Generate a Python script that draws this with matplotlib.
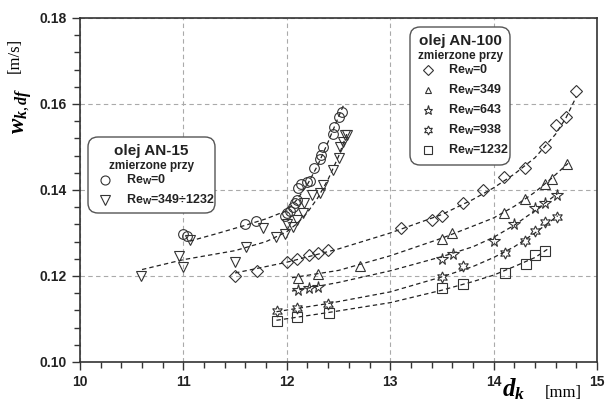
import numpy as np
import matplotlib
matplotlib.use("Agg")
import matplotlib.pyplot as plt
from matplotlib.patches import FancyBboxPatch
from matplotlib.lines import Line2D
from matplotlib.transforms import Affine2D
from matplotlib.ticker import MultipleLocator, FormatStrFormatter

plt.rcParams["font.family"] = ["Liberation Sans", "DejaVu Sans"]
plt.rcParams["mathtext.fontset"] = "custom"
plt.rcParams["mathtext.it"] = "Liberation Serif:italic:bold"
plt.rcParams["mathtext.rm"] = "Liberation Serif"
plt.rcParams["mathtext.sf"] = "Liberation Sans:bold"

# ---------- dane: olej AN-15 ----------
an15_re0_x = [11.0, 11.03, 11.6, 11.7, 11.98, 12.0, 12.03, 12.06, 12.08, 12.1, 12.11,
              12.14, 12.2, 12.22, 12.26, 12.32, 12.33, 12.35, 12.45, 12.46, 12.5, 12.53]
an15_re0_y = [0.1297, 0.1292, 0.1321, 0.1328, 0.1340, 0.1346, 0.1352, 0.1360, 0.1369, 0.1377, 0.1404,
              0.1413, 0.1418, 0.1420, 0.1452, 0.1471, 0.1481, 0.1501, 0.1530, 0.1547, 0.1570, 0.1582]
an15_rew_x = [10.59, 10.96, 11.0, 11.06, 11.5, 11.61, 11.77, 11.9, 11.98, 12.0, 12.06, 12.1,
              12.16, 12.17, 12.24, 12.32, 12.35, 12.45, 12.5, 12.51, 12.54, 12.56, 12.58]
an15_rew_y = [0.1199, 0.1247, 0.1222, 0.1284, 0.1232, 0.1268, 0.1312, 0.1291, 0.1298, 0.1322, 0.1315, 0.1330,
              0.1347, 0.1370, 0.1388, 0.1392, 0.1412, 0.1447, 0.1474, 0.1500, 0.1512, 0.1529, 0.1529]

# krzywe aproksymujace
fit15_re0_x = [11.06, 11.3, 11.6, 11.8, 12.0, 12.1, 12.2, 12.3, 12.4, 12.5, 12.55]
fit15_re0_y = [0.1281, 0.1297, 0.1318, 0.1333, 0.1352, 0.1378, 0.1413, 0.1458, 0.1512, 0.1570, 0.1598]
fit15_rew_x = [10.6, 11.0, 11.5, 11.8, 12.0, 12.1, 12.2, 12.3, 12.4, 12.5, 12.58]
fit15_rew_y = [0.1215, 0.1238, 0.1259, 0.1280, 0.1303, 0.1322, 0.1348, 0.1382, 0.1425, 0.1478, 0.1530]

# ---------- dane: olej AN-100 ----------
an100_re0_x = [11.5, 11.71, 12.0, 12.1, 12.21, 12.3, 12.4, 13.1, 13.4, 13.5, 13.7, 13.9,
               14.1, 14.3, 14.5, 14.6, 14.7, 14.8]
an100_re0_y = [0.1200, 0.1212, 0.1232, 0.1240, 0.1249, 0.1253, 0.1260, 0.1311, 0.1331, 0.1340, 0.1369, 0.1400,
               0.1431, 0.1450, 0.1500, 0.1550, 0.1570, 0.1630]
an100_re349_x = [12.11, 12.3, 12.71, 13.5, 13.6, 14.1, 14.3, 14.5, 14.56, 14.71]
an100_re349_y = [0.1195, 0.1204, 0.1223, 0.1286, 0.1299, 0.1346, 0.1380, 0.1414, 0.1425, 0.1460]
an100_re643_x = [12.11, 12.21, 12.3, 13.5, 13.61, 14.0, 14.2, 14.4, 14.5, 14.61]
an100_re643_y = [0.1167, 0.1171, 0.1174, 0.1239, 0.1250, 0.1281, 0.1320, 0.1359, 0.1369, 0.1388]
an100_re938_x = [11.91, 12.1, 12.4, 13.5, 13.7, 14.11, 14.3, 14.4, 14.5, 14.61]
an100_re938_y = [0.1119, 0.1125, 0.1136, 0.1198, 0.1224, 0.1254, 0.1281, 0.1304, 0.1326, 0.1338]
an100_re1232_x = [11.91, 12.1, 12.41, 13.5, 13.7, 14.11, 14.31, 14.4, 14.5]
an100_re1232_y = [0.1096, 0.1105, 0.1115, 0.1171, 0.1181, 0.1206, 0.1229, 0.1249, 0.1258]

fit100_re0_x = [11.5, 12.0, 12.5, 13.0, 13.5, 13.8, 14.0, 14.2, 14.4, 14.6, 14.7, 14.8]
fit100_re0_y = [0.1207, 0.1232, 0.1263, 0.1300, 0.1343, 0.1378, 0.1405, 0.1437, 0.1475, 0.1530, 0.1568, 0.1617]
fit100_re349_x = [12.05, 12.5, 13.0, 13.5, 13.8, 14.0, 14.2, 14.4, 14.55, 14.72]
fit100_re349_y = [0.1196, 0.1213, 0.1247, 0.1288, 0.1316, 0.1335, 0.1362, 0.1395, 0.1425, 0.1462]
fit100_re643_x = [12.05, 12.5, 13.0, 13.5, 13.8, 14.0, 14.2, 14.4, 14.62]
fit100_re643_y = [0.1165, 0.1185, 0.1212, 0.1245, 0.1268, 0.1290, 0.1318, 0.1352, 0.1392]
fit100_re938_x = [11.9, 12.4, 13.0, 13.5, 13.8, 14.0, 14.2, 14.4, 14.62]
fit100_re938_y = [0.1117, 0.1136, 0.1163, 0.1198, 0.1222, 0.1243, 0.1268, 0.1300, 0.1340]
fit100_re1232_x = [11.9, 12.4, 13.0, 13.5, 13.8, 14.0, 14.2, 14.4, 14.52]
fit100_re1232_y = [0.1097, 0.1115, 0.1138, 0.1167, 0.1187, 0.1202, 0.1222, 0.1243, 0.1262]

MC = "#333333"
STAR6 = (6, 1, 0)

fig = plt.figure(figsize=(6.05, 4.05), dpi=100)
ax = fig.add_axes([80 / 605, 1 - 362 / 405, 517 / 605, 344 / 405])

# krzywe
fits = [(fit15_re0_x, fit15_re0_y), (fit15_rew_x, fit15_rew_y),
        (fit100_re0_x, fit100_re0_y), (fit100_re349_x, fit100_re349_y),
        (fit100_re643_x, fit100_re643_y), (fit100_re938_x, fit100_re938_y),
        (fit100_re1232_x, fit100_re1232_y)]
for fx, fy in fits:
    ax.plot(fx, fy, color="#222222", lw=0.9, ls=(0, (3.5, 2.5)), zorder=2)

# punkty pomiarowe
series = [
    (an15_re0_x, an15_re0_y, "o", 7.0),
    (an15_rew_x, an15_rew_y, "v", 7.5),
    (an100_re0_x, an100_re0_y, "D", 6.0),
    (an100_re349_x, an100_re349_y, "^", 6.5),
    (an100_re643_x, an100_re643_y, "*", 8.5),
    (an100_re938_x, an100_re938_y, STAR6, 8.0),
    (an100_re1232_x, an100_re1232_y, "s", 7.0),
]
for sx, sy, mk, ms in series:
    ax.plot(sx, sy, ls="none", marker=mk, ms=ms, mfc="none", mec=MC, mew=0.8, zorder=3)

# osie
ax.set_xlim(10, 15)
ax.set_ylim(0.10, 0.18)
ax.xaxis.set_major_locator(MultipleLocator(1))
ax.xaxis.set_minor_locator(MultipleLocator(0.2))
ax.yaxis.set_major_locator(MultipleLocator(0.02))
ax.yaxis.set_minor_locator(MultipleLocator(0.004))
ax.yaxis.set_major_formatter(FormatStrFormatter("%.2f"))
ax.tick_params(which="both", direction="out", color="#333333", width=1.0)
ax.tick_params(which="major", length=6, labelsize=10, labelcolor="#222222")
ax.tick_params(which="minor", length=4)
for lab in ax.get_xticklabels() + ax.get_yticklabels():
    lab.set_fontweight("bold")
for sp in ax.spines.values():
    sp.set_color("#333333")
    sp.set_linewidth(1.2)
ax.grid(True, which="major", color="#aaaaaa", ls=(0, (4, 3)), lw=0.8)
ax.set_axisbelow(True)

# opisy osi (w pikselach)
pix = Affine2D().scale(1 / 605, -1 / 405).translate(0, 1) + fig.transFigure
fig.text(22, 134, r"$w_{k,df}$", transform=pix, rotation=90, fontsize=16.5,
         ha="center", va="bottom")
fig.text(15, 38, "[m/s]", transform=pix, rotation=90, fontsize=12,
         family="Liberation Serif", ha="center", va="top")
fig.text(514, 389, r"$d_k$", transform=pix, fontsize=18, ha="center", va="center")
fig.text(563, 393, "[mm]", transform=pix, fontsize=12, family="Liberation Serif",
         ha="center", va="center")


def legend_box(x0, y0, x1, y1, title, entries, mx, lx):
    box = FancyBboxPatch((x0, y0), x1 - x0, y1 - y0,
                         boxstyle="round,pad=0,rounding_size=10",
                         transform=pix, fc="white", ec="#555555", lw=1.0, zorder=10)
    fig.add_artist(box)
    cx = (x0 + x1) / 2
    fig.text(cx, y0 + 14, title, transform=pix, fontsize=11, fontweight="bold",
             ha="center", va="center", color="#222222", zorder=11)
    fig.text(cx, y0 + 29, "zmierzone przy", transform=pix, fontsize=8.5, fontweight="bold",
             ha="center", va="center", color="#222222", zorder=11)
    for yy, mk, ms, lab in entries:
        fig.add_artist(Line2D([mx], [yy], transform=pix, ls="none", marker=mk, ms=ms,
                              mfc="none", mec=MC, mew=0.8, zorder=11))
        fig.text(lx, yy, lab, transform=pix, fontsize=9, fontweight="bold",
                 ha="left", va="center", color="#222222", zorder=11)


legend_box(88, 137, 215, 213, "olej AN-15",
           [(180, "o", 6.5, r"Re$_{\mathsf{W}}$=0"),
            (200, "v", 6.5, r"Re$_{\mathsf{W}}$=349÷1232")],
           mx=105, lx=126)
legend_box(410, 27, 510, 165, "olej AN-100",
           [(70, "D", 5.0, r"Re$_{\mathsf{W}}$=0"),
            (90, "^", 5.0, r"Re$_{\mathsf{W}}$=349"),
            (110, "*", 6.5, r"Re$_{\mathsf{W}}$=643"),
            (130, STAR6, 6.5, r"Re$_{\mathsf{W}}$=938"),
            (150, "s", 6.0, r"Re$_{\mathsf{W}}$=1232")],
           mx=428, lx=448)

fig.savefig("out.png", dpi=100)
